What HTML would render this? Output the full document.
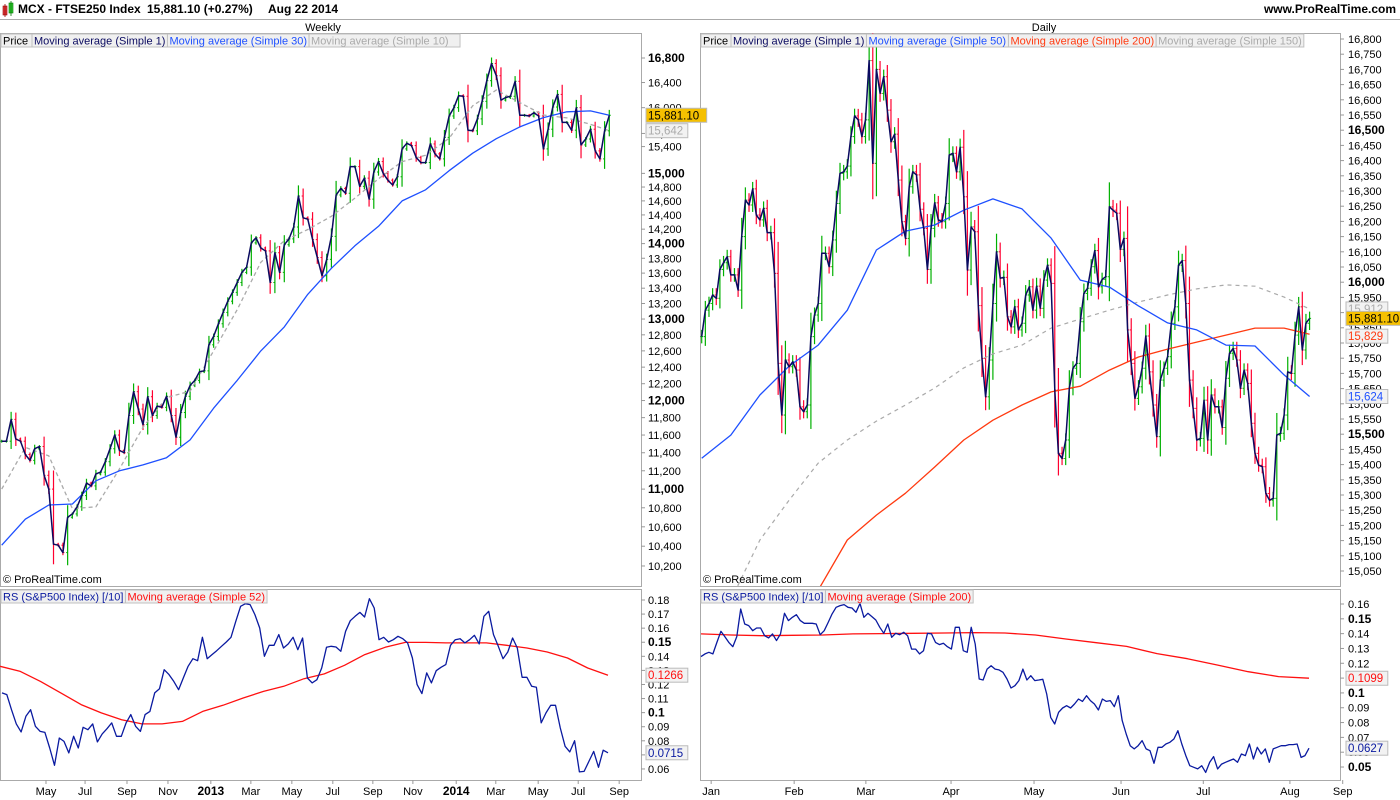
<!DOCTYPE html>
<html><head><meta charset="utf-8"><style>
html,body{margin:0;padding:0;background:#fff;}
svg{display:block;font-family:"Liberation Sans",Arial,sans-serif;}
</style></head><body>
<svg id="c" width="1400" height="800" viewBox="0 0 1400 800" xmlns="http://www.w3.org/2000/svg">
<rect x="0" y="0" width="1400" height="800" fill="#fff"/>
<g>
  <rect x="3" y="6" width="4" height="9" fill="#e04040" stroke="#900" stroke-width="0.6"/>
  <line x1="5" y1="4" x2="5" y2="17" stroke="#900" stroke-width="0.8"/>
  <rect x="9" y="3" width="4" height="10" fill="#3c3" stroke="#070" stroke-width="0.6"/>
  <line x1="11" y1="1" x2="11" y2="16" stroke="#070" stroke-width="0.8"/>
  <text x="18" y="13" font-size="12" font-weight="bold" fill="#000">MCX - FTSE250 Index</text>
  <text x="147" y="13" font-size="12" font-weight="bold" fill="#000">15,881.10 (+0.27%)</text>
  <text x="268" y="13" font-size="12" font-weight="bold" fill="#000">Aug 22 2014</text>
  <text x="1396" y="13" font-size="12" font-weight="bold" fill="#000" text-anchor="end">www.ProRealTime.com</text>
  <line x1="0" y1="19.5" x2="1400" y2="19.5" stroke="#aaa"/>
</g>
<text x="323" y="31" font-size="11" text-anchor="middle">Weekly</text>
<text x="1044" y="31" font-size="11" text-anchor="middle">Daily</text>
<g id="layer"></g>
</svg>
<script>
// ---------------- DATA ----------------
const weeklyClose=[11530,11530,11780,11555,11530,11380,11315,11445,11470,11150,11000,10420,10410,10335,10700,10735,10810,10930,11065,11035,11165,11185,11300,11445,11600,11425,11400,11825,12105,11900,11720,12045,11825,11935,11920,12050,11825,11575,11860,12050,12180,12240,12345,12355,12675,12780,12940,13085,13230,13345,13475,13610,13680,14010,14080,13940,13900,13475,13875,13610,13985,14065,14230,14670,14360,14340,14055,13810,13565,13785,14100,14685,14780,14710,15100,15100,14810,14930,14625,15020,15175,15000,14900,14830,14950,15365,15450,15415,15235,15160,15160,15440,15290,15215,15540,15870,16000,16190,16180,15650,15640,15825,16100,16430,16710,16510,16120,16160,16180,16420,15880,15880,15870,15920,15870,15365,15665,16010,16210,15770,15770,15650,16000,15425,15515,15665,15335,15215,15640,15881];
const weeklyMA30=[10410,10680,10830,10840,11090,11200,11265,11345,11545,11910,12240,12600,12900,13320,13665,13970,14240,14600,14760,15040,15300,15520,15700,15845,15935,15950,15880];
const weeklyMA10=[11000,11460,11365,10790,10810,11220,11690,12035,12110,12600,13120,13745,14040,14195,14380,14640,14920,15175,15270,15525,16030,16280,16080,15885,15840,15740,15642];
const weeklyMAStep=5;
const weeklyRS=[0.1140,0.1128,0.1021,0.0920,0.0863,0.0974,0.1021,0.0903,0.0867,0.0860,0.0749,0.0626,0.0820,0.0796,0.0714,0.0832,0.0749,0.0896,0.0879,0.0920,0.0792,0.0849,0.0886,0.0927,0.0832,0.0832,0.0927,0.0986,0.0903,0.0867,0.0986,0.1009,0.1140,0.1170,0.1305,0.1270,0.1222,0.1163,0.1246,0.1329,0.1383,0.1369,0.1535,0.1383,0.1412,0.1440,0.1471,0.1502,0.1535,0.1649,0.1755,0.1774,0.1767,0.1696,0.1601,0.1400,0.1478,0.1478,0.1554,0.1459,0.1488,0.1535,0.1447,0.1530,0.1246,0.1211,0.1234,0.1317,0.1464,0.1471,0.1466,0.1436,0.1578,0.1653,0.1684,0.1712,0.1679,0.1809,0.1743,0.1518,0.1535,0.1502,0.1518,0.1542,0.1525,0.1495,0.1388,0.1199,0.1135,0.1282,0.1211,0.1298,0.1322,0.1341,0.1478,0.1518,0.1525,0.1495,0.1518,0.1549,0.1488,0.1684,0.1720,0.1554,0.1471,0.1383,0.1431,0.1530,0.1459,0.1251,0.1251,0.1187,0.1180,0.0927,0.0998,0.1052,0.1052,0.0891,0.0761,0.0721,0.0801,0.0579,0.0583,0.0654,0.0725,0.0612,0.0733,0.0715];
const weeklyRSMA52=[0.1329,0.1293,0.1222,0.1140,0.1057,0.0998,0.0950,0.0920,0.0920,0.0938,0.1009,0.1052,0.1104,0.1151,0.1187,0.1241,0.1275,0.1336,0.1412,0.1464,0.1499,0.1499,0.1495,0.1495,0.1495,0.1478,0.1459,0.1431,0.1388,0.1317,0.1266];
const dailyClose=[15821,15908,15930,15958,15947,16042,16064,16084,16024,16024,15974,16150,16270,16254,16307,16221,16205,16243,16163,16163,16029,15733,15563,15744,15722,15738,15711,15590,15574,15596,15821,15892,15930,16095,16095,16051,16139,16259,16358,16363,16382,16479,16547,16534,16479,16534,16729,16391,16700,16621,16676,16566,16462,16487,16336,16199,16144,16314,16363,16353,16240,16177,16042,16177,16261,16205,16199,16259,16418,16424,16363,16444,16281,16040,16182,16166,15923,15749,15623,15744,15930,16100,16013,16016,15886,15853,15919,15843,15865,15958,15985,15908,15987,15914,16007,16056,15996,15645,15437,15420,15481,15651,15717,15733,15870,15963,15980,16051,16104,15985,16009,16018,16248,16237,16227,16108,16144,15843,15733,15618,15656,15717,15823,15705,15596,15492,15678,15717,15755,15865,15919,16056,16071,15930,15678,15585,15481,15486,15612,15481,15629,15590,15590,15522,15684,15766,15782,15744,15651,15711,15667,15536,15437,15398,15393,15305,15283,15289,15497,15503,15563,15705,15700,15826,15919,15777,15865,15881];
const dailyMAStep=8;
const dailyMA50=[15421,15497,15629,15724,15793,15908,16106,16168,16188,16237,16274,16241,16145,16007,15984,15922,15866,15843,15793,15790,15695,15624];
const dailyMA150=[null,14954,15152,15283,15405,15481,15543,15596,15652,15718,15764,15793,15849,15879,15908,15935,15958,15978,15991,15987,15951,15912];
const dailyMA200=[null,null,null,null,14987,15152,15234,15306,15392,15481,15546,15596,15639,15658,15711,15754,15780,15803,15826,15849,15849,15829];
const dailyRS=[.1245,.1263,.1274,.1263,.1341,.1416,.1380,.1341,.1312,.1380,.1566,.1465,.1454,.1420,.1438,.1438,.1386,.1371,.1398,.1353,.1398,.1537,.1488,.1510,.1528,.1488,.1470,.1470,.1470,.1465,.1393,.1420,.1476,.1533,.1578,.1589,.1596,.1578,.1573,.1544,.1604,.1510,.1537,.1515,.1492,.1443,.1402,.1465,.1375,.1402,.1393,.1409,.1386,.1296,.1296,.1263,.1285,.1402,.1398,.1341,.1326,.1335,.1312,.1296,.1443,.1443,.1285,.1274,.1443,.1330,.1094,.1087,.1161,.1184,.1161,.1155,.1139,.1094,.1033,.1049,.1083,.1161,.1087,.1116,.1083,.1087,.1092,.0993,.0835,.0790,.0869,.0898,.0914,.0898,.0925,.0959,.0943,.0981,.0948,.0925,.0885,.0959,.0943,.0948,.0907,.0981,.0813,.0723,.0644,.0622,.0644,.0678,.0622,.0610,.0525,.0633,.0633,.0655,.0667,.0689,.0745,.0655,.0577,.0509,.0498,.0487,.0509,.0464,.0532,.0570,.0487,.0520,.0532,.0543,.0554,.0532,.0588,.0577,.0655,.0554,.0633,.0588,.0622,.0532,.0622,.0633,.0644,.0644,.0651,.0651,.0655,.0565,.0577,.0627];
const dailyRSMA200=[.1398,.1391,.1386,.1389,.1391,.1398,.1400,.1402,.1404,.1407,.1404,.1391,.1364,.1339,.1314,.1265,.1231,.1188,.1143,.1110,.1099];
const leftPriceTicks=[16800,16400,16000,15600,15400,15000,14800,14600,14400,14200,14000,13800,13600,13400,13200,13000,12800,12600,12400,12200,12000,11800,11600,11400,11200,11000,10800,10600,10400,10200];
const leftRSTicks=[0.18,0.17,0.16,0.15,0.14,0.13,0.12,0.11,0.1,0.09,0.08,0.07,0.06];
const rightRSTicks=[0.16,0.15,0.14,0.13,0.12,0.11,0.1,0.09,0.08,0.07,0.06,0.05];
const leftMonthLabels=["May","Jul","Sep","Nov","2013","Mar","May","Jul","Sep","Nov","2014","Mar","May","Jul","Sep"];
const leftMonthWeek=[9.4,17.7,26.6,35.3,44.4,52.9,61.6,70.3,78.8,87.3,96.5,104.9,113.9,122.4,131.1];
const rightMonthLabels=["Jan","Feb","Mar","Apr","May","Jun","Jul","Aug","Sep"];
const rightMonthDay=[2.6,25.4,45.1,68.5,91.3,115.2,137.8,161.6,176.1];

// ---------------- SCALES ----------------
const NS="http://www.w3.org/2000/svg";
const layer=document.getElementById('layer');
const LX0=0,LX1=641,RX0=700,RX1=1340,MY0=33,MY1=586,SY0=589,SY1=780;
const xL=i=>1.7+4.71*i;
const xR=i=>701.7+3.64*i;
const yL=p=>58+(Math.log(16800)-Math.log(p))*1018;
const yR=p=>39+(16800-p)*0.304;
const yLS=v=>600+(0.18-v)*1408;
const yRS=v=>604+(0.16-v)*1482;
function mk(tag,attrs,parent){const e=document.createElementNS(NS,tag);for(const k in attrs)e.setAttribute(k,attrs[k]);(parent||layer).appendChild(e);return e;}
function txt(x,y,s,attrs,parent){const e=mk('text',Object.assign({x:x,y:y,'font-size':11},attrs),parent);e.textContent=s;return e;}
function fmt(n){return n.toLocaleString('en-US');}

const defs=mk('defs',{});
[['cl',LX0,MY0,LX1-LX0,MY1-MY0],['cr',RX0,MY0,RX1-RX0,MY1-MY0],['cls',LX0,SY0,LX1-LX0,SY1-SY0],['crs',RX0,SY0,RX1-RX0,SY1-SY0]].forEach(a=>{const c=mk('clipPath',{id:a[0]},defs);mk('rect',{x:a[1],y:a[2],width:a[3],height:a[4]},c);});
const frames=[[LX0,MY0,LX1,MY1,'left-price-panel'],[RX0,MY0,RX1,MY1,'right-price-panel'],[LX0,SY0,LX1,SY1,'left-rs-panel'],[RX0,SY0,RX1,SY1,'right-rs-panel']];
frames.forEach(f=>{const r=mk('rect',{x:f[0]+0.5,y:f[1]+0.5,width:f[2]-f[0],height:f[3]-f[1],fill:'none',stroke:'#aaa'});

});

function polyline(xs,ys,vals,stroke,w,clip,name,dash){
  let pts=[];vals.forEach((v,i)=>{if(v!==null)pts.push(xs(i).toFixed(1)+','+ys(v).toFixed(1));});
  const p=mk('polyline',{points:pts.join(' '),fill:'none',stroke:stroke,'stroke-width':w,'clip-path':'url(#'+clip+')','stroke-linejoin':'round'});
  if(dash)p.setAttribute('stroke-dasharray',dash);
  
  
  return p;
}
function bars(closes,xs,ys,clip,name){
  const g=mk('g',{'clip-path':'url(#'+clip+')'});
  
  
  closes.forEach((c,i)=>{
    const o=i>0?closes[i-1]:c;
    const up=c>=o;const col=up?'#00b000':'#ff0030';
    const hi=Math.max(o,c),lo=Math.min(o,c),rng=Math.max(hi-lo,hi*0.004);
    const x=xs(i);
    const b=mk('g',{},g);
    
    
    mk('line',{x1:x,y1:ys(hi+rng*0.35),x2:x,y2:ys(lo-rng*0.35),stroke:col,'stroke-width':1.2},b);
    mk('line',{x1:x-1.5,y1:ys(o),x2:x,y2:ys(o),stroke:col,'stroke-width':1},b);
    mk('line',{x1:x,y1:ys(c),x2:x+1.5,y2:ys(c),stroke:col,'stroke-width':1},b);
  });
}
bars(weeklyClose,xL,yL,'cl','weekly-bars');
const wIdx=i=>xL(Math.min(i*weeklyMAStep,weeklyClose.length-1));
polyline(wIdx,yL,weeklyMA10,'#aaa',1.3,'cl','weekly-ma10-line','4,3');
polyline(wIdx,yL,weeklyMA30,'#1e50ff',1.3,'cl','weekly-ma30-line');
polyline(xL,yL,weeklyClose,'#0a0a60',1.5,'cl','weekly-close-line');
bars(dailyClose,xR,yR,'cr','daily-bars');
const dIdx=i=>xR(Math.min(i*dailyMAStep,dailyClose.length-1));
polyline(dIdx,yR,dailyMA150,'#aaa',1.2,'cr','daily-ma150-line','4,4');
polyline(dIdx,yR,dailyMA200,'#ff3a10',1.3,'cr','daily-ma200-line');
polyline(dIdx,yR,dailyMA50,'#1e50ff',1.3,'cr','daily-ma50-line');
polyline(xR,yR,dailyClose,'#0a0a60',1.5,'cr','daily-close-line');
const wrsX=i=>2+i*(606/(weeklyRS.length-1));
polyline(i=>i*(608/(weeklyRSMA52.length-1)),yLS,weeklyRSMA52,'#ff1010',1.3,'cls','weekly-rs-ma52-line');
polyline(wrsX,yLS,weeklyRS,'#0a1aa0',1.3,'cls','weekly-rs-line');
polyline(i=>701+i*(608/(dailyRSMA200.length-1)),yRS,dailyRSMA200,'#ff1010',1.3,'crs','daily-rs-ma200-line');
polyline(i=>701+i*(608/(dailyRS.length-1)),yRS,dailyRS,'#0a1aa0',1.3,'crs','daily-rs-line');

const boldL=[16800,15000,14000,13000,12000,11000];
leftPriceTicks.forEach(p=>{const y=yL(p);mk('line',{x1:LX1,y1:y,x2:LX1+4,y2:y,stroke:'#999'});
  const b=boldL.includes(p);const t=txt(648,y+4,fmt(p),{'font-size':b?12:11,'font-weight':b?'bold':'normal'});
  
  });
for(let p=15050;p<=16800;p+=50){const y=yR(p);mk('line',{x1:RX1,y1:y,x2:RX1+4,y2:y,stroke:'#999'});
  const b=(p%500===0);const t=txt(1348,y+4,fmt(p),{'font-size':b?12:11,'font-weight':b?'bold':'normal'});
  
  }
leftRSTicks.forEach(v=>{const y=yLS(v);mk('line',{x1:LX1,y1:y,x2:LX1+4,y2:y,stroke:'#999'});
  const b=(v===0.15||v===0.1);const t=txt(648,y+4,String(v),{'font-size':b?12:11,'font-weight':b?'bold':'normal'});
  
  });
rightRSTicks.forEach(v=>{const y=yRS(v);mk('line',{x1:RX1,y1:y,x2:RX1+4,y2:y,stroke:'#999'});
  const b=(v===0.15||v===0.1||v===0.05);const t=txt(1348,y+4,String(v),{'font-size':b?12:11,'font-weight':b?'bold':'normal'});
  
  });
leftMonthLabels.forEach((s,k)=>{const x=xL(leftMonthWeek[k]);mk('line',{x1:x,y1:SY1,x2:x,y2:SY1+4,stroke:'#999'});
  const b=/^\d/.test(s);const t=txt(x,795,s,{'text-anchor':'middle','font-size':b?12:11,'font-weight':b?'bold':'normal'});
  
  });
rightMonthLabels.forEach((s,k)=>{const x=xR(rightMonthDay[k]);mk('line',{x1:x,y1:SY1,x2:x,y2:SY1+4,stroke:'#999'});
  const t=txt(x,795,s,{'text-anchor':'middle'});
  
  });

function badge(x,y,s,fg,bg,name){const g=mk('g',{});
  
  
  const w=s.length*6.3+4;mk('rect',{x:x,y:y-7,width:w,height:14,fill:bg,stroke:'#bbb'},g);txt(x+2,y+4,s,{fill:fg,'font-size':11.5},g);}
badge(646,yL(15642),'15,642','#aaa','#f2f2f2','left-ma10-badge');
badge(646,yL(15881.1),'15,881.10','#000','#f5c000','left-last-badge');
badge(1346,yR(15912),'15,912','#aaa','#f2f2f2','right-ma150-badge');
badge(1346,yR(15829)+2,'15,829','#ff3a10','#f2f2f2','right-ma200-badge');
badge(1346,yR(15881.1),'15,881.10','#000','#f5c000','right-last-badge');
badge(1346,yR(15624),'15,624','#1e50ff','#f2f2f2','right-ma50-badge');
badge(646,yLS(0.1266),'0.1266','#ff1010','#f2f2f2','left-rs-ma-badge');
badge(646,yLS(0.0715),'0.0715','#0a1aa0','#f2f2f2','left-rs-badge');
badge(1346,yRS(0.1099),'0.1099','#ff1010','#f2f2f2','right-rs-ma-badge');
badge(1346,yRS(0.0627),'0.0627','#0a1aa0','#f2f2f2','right-rs-badge');

function legend(x,y,items,name){let cx=x;const g=mk('g',{});
  
  
  items.forEach(it=>{const r=mk('rect',{x:cx,y:y,width:10,height:13,fill:'#f0f0f0',stroke:'#c0c0c0'},g);
    const t=txt(cx+2,y+10.5,it[0],{fill:it[1],'font-size':11},g);
    let w=it[2];try{w=Math.max(w,t.getComputedTextLength()+4);}catch(e){}
    r.setAttribute('width',w);cx+=w;});}
legend(1,34,[['Price','#000',31],['Moving average (Simple 1)','#0a0a60',134],['Moving average (Simple 30)','#1e50ff',129],['Moving average (Simple 10)','#aaa',151]],'left-legend');
legend(701,34,[['Price','#000',30],['Moving average (Simple 1)','#0a0a60',135],['Moving average (Simple 50)','#1e50ff',142],['Moving average (Simple 200)','#ff3a10',145],['Moving average (Simple 150)','#aaa',146]],'right-legend');
legend(1,590,[['RS (S&P500 Index) [/10]','#0a1aa0',123],['Moving average (Simple 52)','#ff1010',141]],'left-rs-legend');
legend(701,590,[['RS (S&P500 Index) [/10]','#0a1aa0',123],['Moving average (Simple 200)','#ff1010',147]],'right-rs-legend');
const c1=txt(3,583,'© ProRealTime.com',{fill:'#000'});


const c2=txt(703,583,'© ProRealTime.com',{fill:'#000'});


</script>
</body></html>
